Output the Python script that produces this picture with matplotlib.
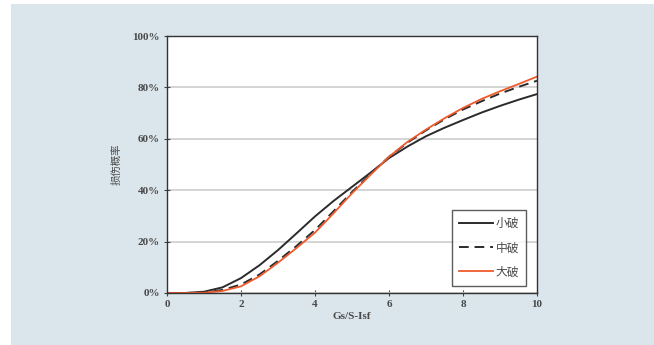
import matplotlib

matplotlib.use("Agg")
import matplotlib.pyplot as plt
from matplotlib.patches import Rectangle
from matplotlib.ticker import FuncFormatter

# values (percent)
x_vals = [0, 0.5, 1, 1.5, 2, 2.5, 3, 3.5, 4, 4.5, 5, 5.5, 6, 6.5, 7, 7.5, 8, 8.5, 9, 9.5, 10]
minor_dmg = [0, 0, 0.5, 2.2, 5.8, 10.8, 16.7, 23.2, 29.8, 35.8, 41.3, 46.8, 52.5, 57.0,
             61.0, 64.3, 67.3, 70.2, 72.8, 75.2, 77.4]
moderate_dmg = [0, 0, 0.2, 1.2, 3.3, 7.2, 12.5, 18.3, 24.5, 31.8, 39.3, 46.3, 53.0, 58.5,
                63.3, 67.6, 71.4, 74.6, 77.6, 80.2, 82.6]
major_dmg = [0, 0, 0.1, 0.8, 2.6, 6.5, 11.8, 17.5, 23.5, 31.0, 38.8, 46.0, 53.0, 58.8,
             63.6, 68.0, 72.0, 75.5, 78.5, 81.3, 84.2]
series_names = ["小破", "中破", "大破"]
x_ticks = [0, 2, 4, 6, 8, 10]
y_ticks = [0, 20, 40, 60, 80, 100]

serif = ["Liberation Serif", "Noto Sans CJK SC", "DejaVu Sans"]
cjk = ["Noto Sans CJK SC", "DejaVu Sans"]
txt_color = "#4a4a4a"

fig = plt.figure(figsize=(6.54, 3.45), dpi=100, facecolor="white")
fig.patches.append(Rectangle((11 / 654, 0), 1, 1 - 4 / 345, transform=fig.transFigure,
                             facecolor="#dbe6ec", edgecolor="none", zorder=-10))

ax = fig.add_axes([167 / 654, 1 - 293 / 345, 370 / 654, 257 / 345])
ax.set_facecolor("white")

ax.plot(x_vals, minor_dmg, color="#2b2b2b", lw=1.4, label=series_names[0])
ax.plot(x_vals, moderate_dmg, color="#2b2b2b", lw=1.4, ls=(0, (5, 3)), label=series_names[1])
ax.plot(x_vals, major_dmg, color="#ee5a2c", lw=1.3, label=series_names[2])

ax.set_xlim(0, 10)
ax.set_ylim(0, 100)
ax.set_xticks(x_ticks)
ax.set_yticks(y_ticks)
ax.yaxis.set_major_formatter(FuncFormatter(lambda v, p: f"{v:.0f}%"))
ax.yaxis.grid(True, color="#d4d4d4", lw=1.4)
ax.set_axisbelow(True)
ax.tick_params(direction="inout", length=4, width=0.8, color="#444444",
               labelsize=8, labelcolor=txt_color, pad=3)
for lbl in ax.get_xticklabels() + ax.get_yticklabels():
    lbl.set_fontfamily(serif)
    lbl.set_fontweight("bold")
for sp in ax.spines.values():
    sp.set_color("#333333")
    sp.set_linewidth(1.0)

ax.set_xlabel("Gs/S-Isf", fontsize=8, fontweight="bold", family=serif, color=txt_color,
              labelpad=2)
ax.set_ylabel("损伤概率", fontsize=7.5, family=cjk, color=txt_color, labelpad=8)

leg = ax.legend(loc="lower right", bbox_to_anchor=(0.98, 0.015), frameon=True, fancybox=False,
                handlelength=2.9, handletextpad=0.2, borderpad=0.6, labelspacing=0.95,
                borderaxespad=0.3, prop={"family": cjk, "size": 8.5})
leg.get_frame().set_edgecolor("#333333")
leg.get_frame().set_linewidth(1.0)
for t in leg.get_texts():
    t.set_color(txt_color)

fig.savefig("out.png", dpi=100, facecolor=fig.get_facecolor())
